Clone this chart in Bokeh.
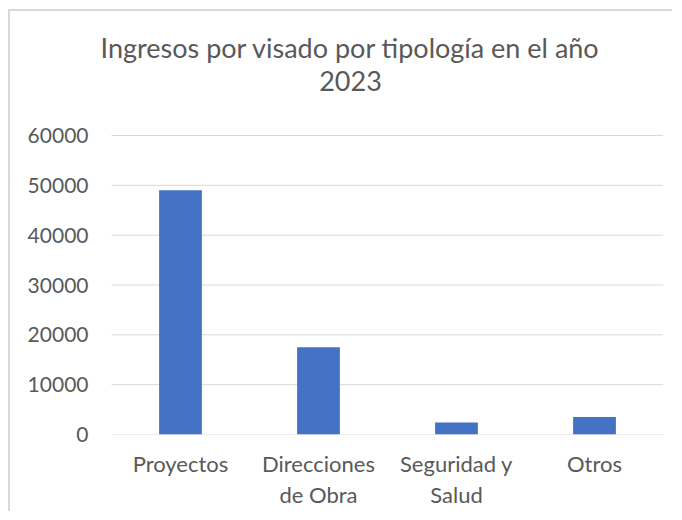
from bokeh.plotting import figure
from bokeh.models import Range1d, FixedTicker, Label
from bokeh.embed import file_html
from bokeh.resources import INLINE

categories = ["Proyectos", "Direcciones de Obra", "Seguridad y Salud", "Otros"]
values = [49000, 17500, 2400, 3500]
y_ticks = [0, 10000, 20000, 30000, 40000, 50000, 60000]
label_wrap = {"Direcciones de Obra": "Direcciones\nde Obra",
              "Seguridad y Salud": "Seguridad y\nSalud"}
title_line1 = "Ingresos por visado por tipología en el año"
title_line2 = "2023"

FONT = "Lato"
TXT = "#595959"
GRID = "#d9d9d9"

# layout (pixels)
W, H = 664, 502
B_LEFT, B_RIGHT, B_TOP, B_BOTTOM = 85, 11, 10, 79
PAD_LEFT = 16                      # empty frame space left of the plot area
FRAME_H = H - B_TOP - B_BOTTOM
AXIS_PX = 299                      # pixel height of the 0..60000 value axis
Y_MAX = y_ticks[-1]
px = Y_MAX / AXIS_PX               # data units per pixel
CAT_PX = (W - B_LEFT - B_RIGHT - PAD_LEFT) / len(categories)

n = len(categories)
xs = list(range(n))
x_lo, x_hi = -0.5, n - 0.5

p = figure(x_range=Range1d(x_lo - PAD_LEFT / CAT_PX, x_hi),
           y_range=Range1d(0, FRAME_H * px),
           width=W, height=H, output_backend="svg", toolbar_location=None,
           min_border_left=B_LEFT, min_border_right=B_RIGHT, min_border_top=B_TOP,
           min_border_bottom=B_BOTTOM)
p.styles = {"border-left": "2px solid #d9d9d9", "border-top": "2px solid #d9d9d9",
            "margin-left": "8px", "margin-top": "9px"}

# horizontal gridlines over the plot area only
p.segment(x0=[x_lo] * len(y_ticks), x1=[x_hi] * len(y_ticks), y0=y_ticks, y1=y_ticks,
          line_color=GRID, line_width=1)

p.vbar(x=xs, top=values, width=0.31, fill_color="#4472C4", line_color=None)

# chart title: two centred lines above the value area
title_cx = x_lo + 239 / CAT_PX
for txt, up in ((title_line1, 387), (title_line2, 354)):
    p.add_layout(Label(x=title_cx, y=up * px, text=txt,
                       text_align="center", text_baseline="alphabetic",
                       text_font=FONT, text_font_size="27px", text_color=TXT))

p.outline_line_color = None
p.xgrid.grid_line_color = None
p.ygrid.grid_line_color = None
p.yaxis.ticker = FixedTicker(ticks=y_ticks)
p.yaxis.axis_line_color = None
p.yaxis.major_tick_line_color = None
p.yaxis.minor_tick_line_color = None
p.yaxis.major_tick_out = 0
p.yaxis.major_label_standoff = 23 - PAD_LEFT
p.yaxis.major_label_text_font = FONT
p.yaxis.major_label_text_font_size = "21px"
p.yaxis.major_label_text_color = TXT

p.xaxis.ticker = FixedTicker(ticks=xs)
p.xaxis.major_label_overrides = {i: label_wrap.get(c, c) for i, c in zip(xs, categories)}
p.xaxis.axis_line_color = None
p.xaxis.major_tick_line_color = None
p.xaxis.minor_tick_line_color = None
p.xaxis.major_tick_out = 0
p.xaxis.major_label_standoff = 15
p.xaxis.major_label_text_font = FONT
p.xaxis.major_label_text_font_size = "22px"
p.xaxis.major_label_text_line_height = 1.15
p.xaxis.major_label_text_color = TXT

open("out.html", "w").write(file_html(p, INLINE))
